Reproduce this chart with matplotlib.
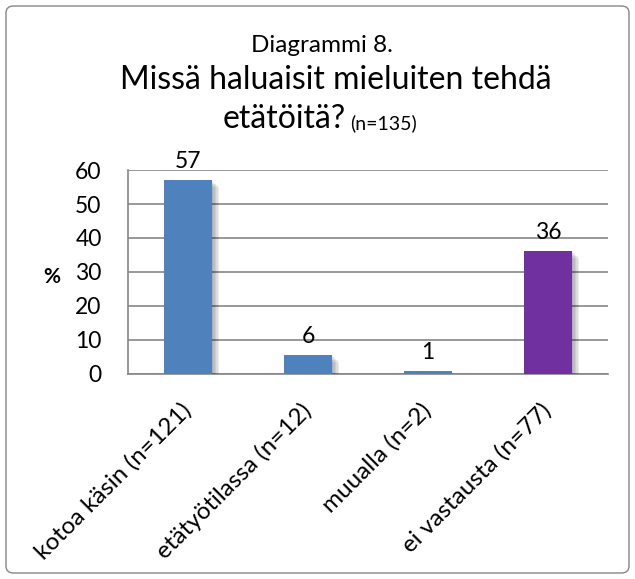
import matplotlib
matplotlib.use("Agg")
import matplotlib.pyplot as plt
import matplotlib.patheffects as pe
import matplotlib.transforms as mtransforms
from matplotlib.patches import FancyBboxPatch

# data (percent of n=212 answers)
categories = ["kotoa käsin (n=121)", "etätyötilassa (n=12)", "muualla (n=2)", "ei vastausta (n=77)"]
values = [57.1, 5.7, 0.9, 36.3]
colors = ["#4F81BD", "#4F81BD", "#4F81BD", "#7030A0"]
yticks = [0, 10, 20, 30, 40, 50, 60]

plt.rcParams['font.family'] = ['Lato', 'DejaVu Sans']

fig = plt.figure(figsize=(6.35, 5.79), dpi=100)
ax = fig.add_axes([128/635, 1 - 374/579, 480/635, 204/579])

x = range(len(categories))
bars = ax.bar(x, values, width=0.4, color=colors, zorder=3)
shadow = [pe.SimplePatchShadow(offset=(d, -d), shadow_rgbFace='black', alpha=0.07) for d in (1, 2, 3, 4, 5)]
for b in bars:
    b.set_path_effects(shadow + [pe.Normal()])

for xi, v in zip(x, values):
    ax.text(xi, v + 2.2, f"{v:.0f}", ha='center', va='bottom', fontsize=16.5)

ax.set_xlim(-0.5, len(categories) - 0.5)
ax.set_ylim(0, 60)
ax.set_yticks(yticks)
ax.tick_params(axis='y', length=0, labelsize=16.5, pad=19)
ax.tick_params(axis='x', length=0, pad=4)
ax.set_xticks(list(x))
ax.set_xticklabels(categories, rotation=45, ha='right', rotation_mode='anchor', fontsize=17.5)
shift = mtransforms.ScaledTranslation(-8/100, -20/100, fig.dpi_scale_trans)
for lbl in ax.get_xticklabels():
    lbl.set_transform(lbl.get_transform() + shift)
ax.yaxis.grid(True, color='#868686', linewidth=1.2, zorder=0)
for s in ['top', 'right']:
    ax.spines[s].set_visible(False)
for s in ['left', 'bottom']:
    ax.spines[s].set_color('#868686')
    ax.spines[s].set_linewidth(1.2)

fig.text(52/635, 1 - 277/579, "%", ha='center', va='center', fontsize=15, fontweight='bold')

fig.text(322/635, 1 - 45/579, "Diagrammi 8.", ha='center', va='center', fontsize=17.5)
fig.text(336/635, 1 - 80/579, "Missä haluaisit mieluiten tehdä", ha='center', va='center', fontsize=23)
fig.text(346/635, 1 - 119/579, "etätöitä?", ha='right', va='center', fontsize=23)
fig.text(350/635, 1 - 123/579, "(n=135)", ha='left', va='center', fontsize=14)

border = FancyBboxPatch((6/635, 6/579), 623/635, 567/579, boxstyle="round,pad=0,rounding_size=0.012",
                        transform=fig.transFigure, fill=False, edgecolor='#868686', linewidth=1.0)
fig.patches.append(border)

fig.savefig("out.png", dpi=100)
